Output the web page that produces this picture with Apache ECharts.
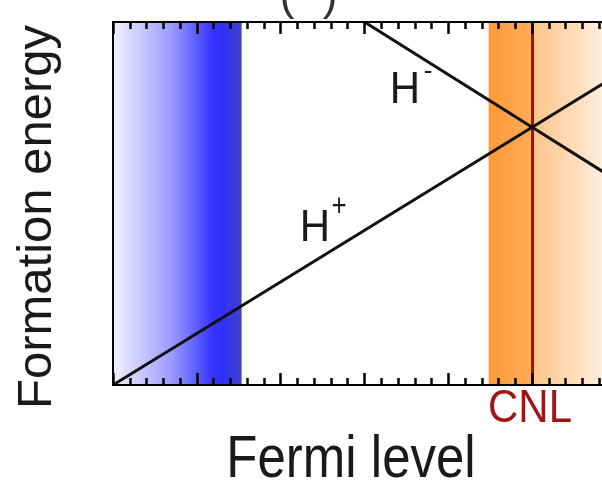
<!DOCTYPE html>
<html>
<head>
    <meta charset="utf-8">
    <script src="https://cdn.jsdelivr.net/npm/echarts@6/dist/echarts.min.js"></script>
    <style>
        body { margin: 0; background: #fff; }
        #main { width: 602px; height: 486px; }
    </style>
</head>

<body>
    <div id="main"></div>

    <script type="text/javascript">
        var myChart = echarts.init(document.getElementById('main'));

        // Fermi level in minor-tick units, formation energy in arbitrary units
        var hPlus = [[0, 0], [25, 7.1], [30, 8.52]]
        var hMinus = [[15, 10], [25, 7.1], [30, 5.65]]
        var cnl = 25
        var blueBand = [0, 7.67]
        var orangeBand = [22.4, 25]
        var orangeFade = [25, 30]

        function grad(stops) {
            return {
                type: 'linear', x: 0, y: 0, x2: 1, y2: 0,
                colorStops: stops.map(function (s) { return { offset: s[0], color: s[1] } })
            }
        }

        function fermiAxis(pos) {
            return {
                type: 'value',
                position: pos,
                min: 0,
                max: 30,
                interval: 5,
                z: 10,
                axisLine: { show: true, onZero: false, lineStyle: { color: '#000', width: 2 } },
                axisTick: { show: true, inside: true, length: 12, lineStyle: { color: '#000', width: 2.5 } },
                minorTick: { show: true, splitNumber: 5, length: 7, lineStyle: { color: '#000', width: 2.5 } },
                axisLabel: { show: false },
                splitLine: { show: false }
            }
        }

        var txt = '#1a1a1a'
        var font = '"Liberation Sans", Arial, sans-serif'

        function label(text, x, y, size, color, sy, rot) {
            return {
                type: 'text',
                x: x, y: y,
                scaleY: sy || 1,
                rotation: rot || 0,
                z: 100,
                style: {
                    text: text,
                    fill: color,
                    font: size + 'px ' + font,
                    align: 'center',
                    verticalAlign: 'middle'
                }
            }
        }

        myChart.setOption({
            animation: false,
            grid: { left: 113, top: 22, width: 503, bottom: 101, outerBoundsMode: 'none', containLabel: false },
            xAxis: [fermiAxis('bottom'), fermiAxis('top')],
            yAxis: {
                type: 'value',
                min: 0,
                max: 10,
                z: 10,
                axisLine: { show: true, lineStyle: { color: '#000', width: 2 } },
                axisTick: { show: false },
                axisLabel: { show: false },
                splitLine: { show: false }
            },
            series: [{
                type: 'line',
                data: [],
                z: 1,
                markArea: {
                    silent: true,
                    data: [
                        [{ xAxis: blueBand[0], itemStyle: { color: grad([[0, '#f2f2ff'], [0.45, '#9c9cff'], [0.78, '#3434ff'], [0.86, '#3030f4'], [1, '#4141cc']]) } }, { xAxis: blueBand[1] }],
                        [{ xAxis: orangeBand[0], itemStyle: { color: grad([[0, '#ff9a36'], [1, '#ffab58']]) } }, { xAxis: orangeBand[1] }],
                        [{ xAxis: orangeFade[0], itemStyle: { color: grad([[0, '#ffc48a'], [0.5, '#ffdcb8'], [1, '#fff8f2']]) } }, { xAxis: orangeFade[1] }]
                    ]
                },
                markLine: {
                    silent: true,
                    symbol: 'none',
                    label: { show: false },
                    lineStyle: { color: '#a30f0f', width: 3, type: 'solid' },
                    data: [{ xAxis: cnl }]
                }
            }, {
                name: 'H+',
                type: 'line',
                data: hPlus,
                symbol: 'none',
                z: 5,
                lineStyle: { color: '#111', width: 3 }
            }, {
                name: 'H-',
                type: 'line',
                xAxisIndex: 1,
                data: hMinus,
                symbol: 'none',
                z: 5,
                lineStyle: { color: '#111', width: 3 }
            }],
            graphic: [
                label('Formation energy', 37, 217, 49, txt, 1, Math.PI / 2),
                label('Fermi level', 351, 461, 51, txt, 1.15),
                label('CNL', 530, 409, 42, '#a01414', 1.1),
                label('H', 405, 91, 42, txt, 1.06),
                label('-', 428, 72, 26, txt, 1),
                label('H', 315, 229, 42, txt, 1.06),
                label('+', 339, 207, 26, txt, 1.2),
                label('(', 287, -2, 44, '#333', 1),
                label(')', 330, -2, 44, '#333', 1)
            ]
        })
    </script>
</body>

</html>
